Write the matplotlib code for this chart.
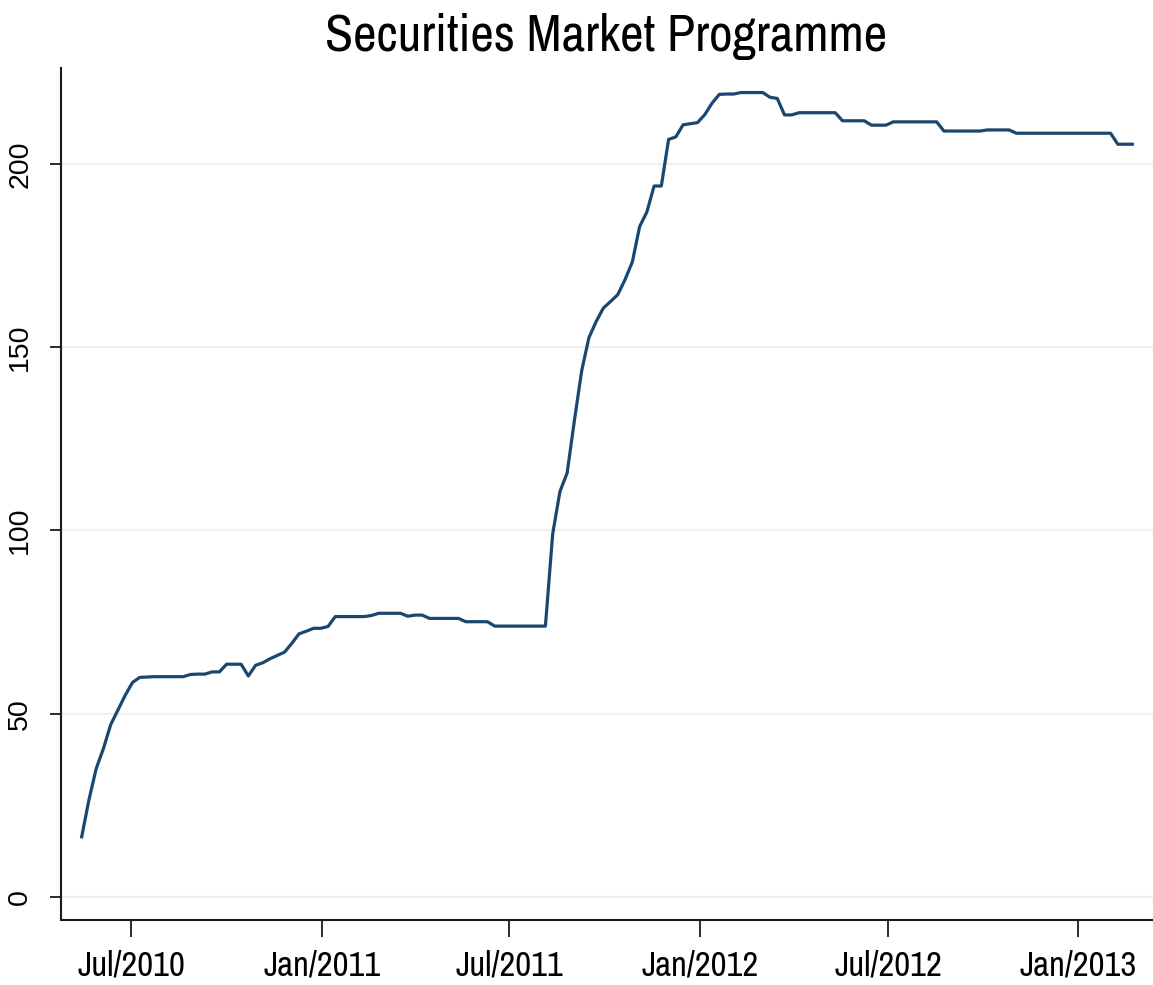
import matplotlib
matplotlib.use("Agg")
import matplotlib.pyplot as plt
import pandas as pd

# ---- data (weekly SMP holdings, EUR bn) ----
start_date = "2010-05-14"
holdings = [
    16.4, 26.5, 35.0, 40.5, 47.0, 51.0, 55.0, 58.5, 59.9, 60.0,
    60.1, 60.1, 60.1, 60.1, 60.1, 60.7, 60.8, 60.8, 61.4, 61.4,
    63.5, 63.5, 63.5, 60.3, 63.2, 63.9, 65.0, 65.9, 66.8, 69.2,
    71.8, 72.5, 73.3, 73.3, 73.8, 76.5, 76.5, 76.5, 76.5, 76.5,
    76.8, 77.4, 77.4, 77.4, 77.4, 76.6, 76.9, 76.9, 76.0, 76.0,
    76.0, 76.0, 76.0, 75.1, 75.1, 75.1, 75.1, 73.9, 73.9, 73.9,
    73.9, 73.9, 73.9, 73.9, 73.9, 99.0, 110.6, 115.7, 130.0, 143.5,
    152.6, 157.0, 160.7, 162.5, 164.4, 168.5, 173.3, 182.9, 186.9, 194.0,
    194.0, 206.7, 207.4, 210.7, 211.0, 211.3, 213.5, 216.6, 219.0, 219.1,
    219.1, 219.5, 219.5, 219.5, 219.5, 218.2, 217.9, 213.4, 213.4, 214.0,
    214.0, 214.0, 214.0, 214.0, 214.0, 211.8, 211.8, 211.8, 211.8, 210.6,
    210.6, 210.6, 211.5, 211.5, 211.5, 211.5, 211.5, 211.5, 211.5, 209.0,
    209.0, 209.0, 209.0, 209.0, 209.0, 209.3, 209.3, 209.3, 209.3, 208.4,
    208.4, 208.4, 208.4, 208.4, 208.4, 208.4, 208.4, 208.4, 208.4, 208.4,
    208.4, 208.4, 208.4, 205.4, 205.4, 205.4,
]
dates = pd.date_range(start_date, periods=len(holdings), freq="7D")

x_tick_dates = ["2010-07-01", "2011-01-01", "2011-07-01",
                "2012-01-01", "2012-07-01", "2013-01-01"]
x_tick_labels = ["Jul/2010", "Jan/2011", "Jul/2011",
                 "Jan/2012", "Jul/2012", "Jan/2013"]
y_ticks = [0, 50, 100, 150, 200]
title = "Securities Market Programme"

narrow = ["Archivo Narrow", "Liberation Sans", "DejaVu Sans"]
regular = ["Liberation Sans", "DejaVu Sans"]

fig = plt.figure(figsize=(11.53, 9.85), dpi=100)
ax = fig.add_axes([61 / 1153, 1 - 920 / 985, 1 - 61 / 1153, (920 - 68) / 985])

ax.plot(dates, holdings, color="#1a476f", linewidth=2.3, solid_joinstyle="round", zorder=3)

ax.set_xlim(pd.Timestamp("2010-04-24"), pd.Timestamp("2013-03-14"))
ax.set_ylim(-6.3, 226.2)

ax.set_yticks(y_ticks)
ax.set_yticklabels([str(v) for v in y_ticks], rotation=90, va="center",
                   family=regular, fontsize=20.5)
ax.set_xticks([pd.Timestamp(d) for d in x_tick_dates])
ax.set_xticklabels(x_tick_labels, family=narrow, fontsize=25)

ax.yaxis.grid(True, color="#eaf2f3", linewidth=1.6, zorder=0)
ax.xaxis.grid(False)
ax.set_axisbelow(True)

for s in ["top", "right"]:
    ax.spines[s].set_visible(False)
for s in ["left", "bottom"]:
    ax.spines[s].set_color("#1a1a1a")
    ax.spines[s].set_linewidth(1.5)

ax.tick_params(axis="y", length=8, width=1.3, pad=12, colors="#1a1a1a", labelcolor="black")
ax.tick_params(axis="x", length=12, width=1.3, pad=9, colors="#1a1a1a", labelcolor="black")

fig.text(606 / 1153, 1 - 36 / 985, title, ha="center", va="center",
         family=narrow, fontsize=37, color="black")

fig.savefig("out.png", dpi=100, facecolor="white")
